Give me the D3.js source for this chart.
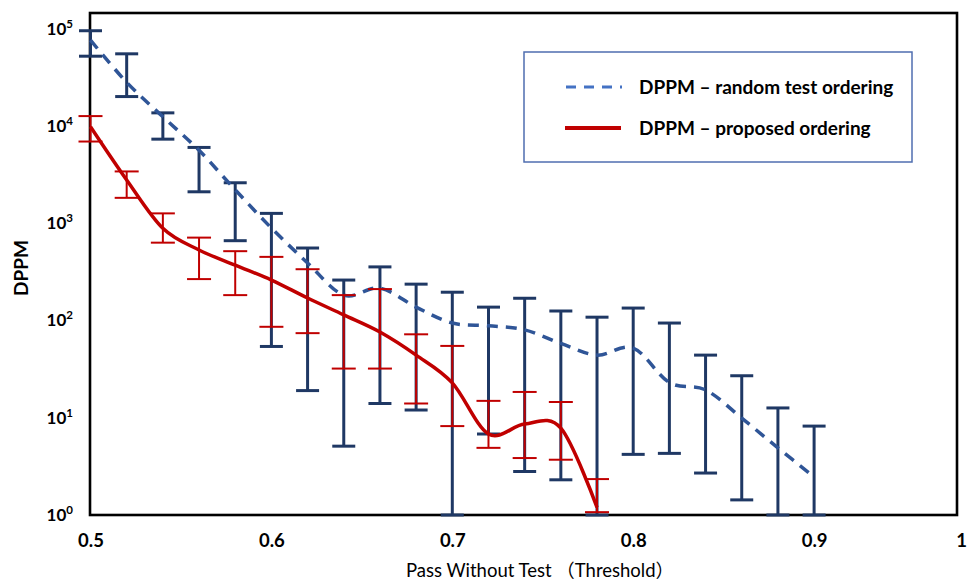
<!DOCTYPE html>
<html>
<head>
<meta charset="utf-8">
<script src="https://cdn.jsdelivr.net/npm/d3@7"></script>
<style>
  html, body { margin: 0; padding: 0; background: #fff; }
  svg { display: block; font-family: Lato, "Noto Sans", sans-serif; }
</style>
</head>
<body>
<svg id="chart" width="972" height="582"></svg>
<script>
// ---------- data ----------
const xTicks = [0.5, 0.6, 0.7, 0.8, 0.9, 1];
const yTicks = [1, 10, 100, 1000, 10000, 100000];

const randomThreshold = [0.50, 0.52, 0.54, 0.56, 0.58, 0.60, 0.62, 0.64, 0.66, 0.68, 0.70,
                         0.72, 0.74, 0.76, 0.78, 0.80, 0.82, 0.84, 0.86, 0.88, 0.90];
const randomMean  = [76000, 28000, 12400, 5600, 2200, 890, 390, 182, 215, 137, 94,
                     88, 80, 58, 44, 52, 23, 19.3, 9.9, 4.9, 2.46];
const randomUpper = [95000, 55000, 13600, 6000, 2600, 1260, 555, 260, 355, 236, 195,
                     137, 169, 125, 108, 134, 94, 44, 27, 12.6, 8.2];
const randomLower = [52000, 20000, 7300, 2100, 660, 54, 19, 5.1, 14, 12, 1,
                     6.8, 2.8, 2.3, 1, 4.2, 4.3, 2.7, 1.43, 1, 1];

const proposedThreshold = [0.50, 0.52, 0.54, 0.56, 0.58, 0.60, 0.62, 0.64, 0.66, 0.68, 0.70,
                           0.72, 0.74, 0.76, 0.78];
const proposedMean  = [9800, 2780, 885, 530, 370, 260, 170, 114, 76, 44, 22.8,
                       6.8, 8.6, 7.8, 1.2];
const proposedUpper = [12600, 3400, 1260, 710, 515, 450, 336, 182, 210, 72, 54.7,
                       14.9, 18.4, 14.5, 2.34];
const proposedLower = [6900, 1820, 630, 266, 182, 86, 74, 32, 32, 14, 8.2,
                       4.9, 3.85, 3.7, 1.07];

const seriesNames = ["DPPM \u2013 random test ordering", "DPPM \u2013 proposed ordering"];
const xTitle = "Pass Without Test \uFF08Threshold\uFF09";
const yTitle = "DPPM";

// ---------- layout ----------
const svg = d3.select("#chart");
const frame = { left: 90, right: 957, top: 13, bottom: 515 };

const x = d3.scaleLinear().domain([0.5, 1]).range([90.5, 995]);
const y = d3.scaleLog().domain([1, Math.pow(10, 5.16)]).range([515, 13]);

const navy = "#1F3864";
const dashBlue = "#2F5597";
const legendBlue = "#4472C4";
const red = "#C00000";

const randomData = randomThreshold.map((t, i) => ({ t, m: randomMean[i], hi: randomUpper[i], lo: randomLower[i] }));
const proposedData = proposedThreshold.map((t, i) => ({ t, m: proposedMean[i], hi: proposedUpper[i], lo: proposedLower[i] }));

// frame
svg.append("rect")
  .attr("x", frame.left).attr("y", frame.top)
  .attr("width", frame.right - frame.left).attr("height", frame.bottom - frame.top)
  .attr("fill", "none").attr("stroke", "#000").attr("stroke-width", 2.6);

// axes
const xAxis = svg.append("g")
  .attr("transform", `translate(0,${frame.bottom})`)
  .call(d3.axisBottom(x).tickValues(xTicks).tickSize(0).tickPadding(19)
        .tickFormat(d => d === 1 ? "1" : d3.format(".1f")(d)));
xAxis.select(".domain").remove();
xAxis.selectAll("text")
  .attr("font-family", "Lato, sans-serif")
  .attr("font-size", 18.5).attr("font-weight", "bold").attr("fill", "#000");
xAxis.selectAll(".tick").filter(d => d === 1).select("text")
  .attr("x", 961 - x(1));

const yAxis = svg.append("g")
  .attr("transform", `translate(${frame.left},0)`)
  .call(d3.axisLeft(y).tickValues(yTicks).tickSize(0).tickPadding(17).tickFormat(""));
yAxis.select(".domain").remove();
yAxis.selectAll(".tick text").each(function(d) {
  const t = d3.select(this)
    .attr("font-family", "Lato, sans-serif")
    .attr("font-size", 17).attr("font-weight", "bold").attr("fill", "#000");
  t.append("tspan").text("10");
  t.append("tspan").attr("font-size", 11.5).attr("dy", -7).text(String(Math.round(Math.log10(d))));
});

// error bars
function errorBars(data, color, width, cap) {
  const g = svg.append("g").attr("stroke", color).attr("stroke-width", width).attr("fill", "none");
  data.forEach(d => {
    const cx = x(d.t);
    g.append("line").attr("x1", cx).attr("x2", cx).attr("y1", y(d.hi)).attr("y2", y(d.lo));
    g.append("line").attr("x1", cx - cap).attr("x2", cx + cap).attr("y1", y(d.hi)).attr("y2", y(d.hi));
    g.append("line").attr("x1", cx - cap).attr("x2", cx + cap).attr("y1", y(d.lo)).attr("y2", y(d.lo));
  });
}

const line = d3.line().x(d => x(d.t)).y(d => y(d.m)).curve(d3.curveCardinal.tension(0));

errorBars(randomData, navy, 3, 11.5);
svg.append("path").datum(randomData)
  .attr("d", line).attr("fill", "none")
  .attr("stroke", dashBlue).attr("stroke-width", 3.5).attr("stroke-dasharray", "11,8");

errorBars(proposedData, red, 2, 12);
svg.append("path").datum(proposedData)
  .attr("d", line).attr("fill", "none")
  .attr("stroke", red).attr("stroke-width", 3.5);

// legend
const lg = svg.append("g");
lg.append("rect").attr("x", 524).attr("y", 52).attr("width", 388).attr("height", 110)
  .attr("fill", "#fff").attr("stroke", "#4F6EB0").attr("stroke-width", 1.5);
lg.append("line").attr("x1", 566).attr("x2", 622).attr("y1", 87).attr("y2", 87)
  .attr("stroke", legendBlue).attr("stroke-width", 3).attr("stroke-dasharray", "10,8");
lg.append("line").attr("x1", 565).attr("x2", 621).attr("y1", 128).attr("y2", 128)
  .attr("stroke", red).attr("stroke-width", 4);
lg.selectAll("text.lbl").data(seriesNames).join("text")
  .attr("class", "lbl")
  .attr("x", 639).attr("y", (d, i) => i === 0 ? 87 : 128)
  .attr("dy", "0.35em")
  .attr("font-size", 19).attr("font-weight", "bold").attr("fill", "#000")
  .text(d => d);

// titles
svg.append("text")
  .attr("transform", "translate(21,268) rotate(-90)")
  .attr("text-anchor", "middle").attr("dy", "0.35em")
  .attr("font-size", 19).attr("font-weight", "bold").attr("fill", "#000")
  .text(yTitle);

svg.append("text")
  .attr("x", 540).attr("y", 571).attr("dy", "0.35em")
  .attr("text-anchor", "middle")
  .attr("font-family", "Lato, 'Noto Sans CJK SC', sans-serif")
  .attr("font-size", 18.5).attr("fill", "#000")
  .text(xTitle);
</script>
</body>
</html>
